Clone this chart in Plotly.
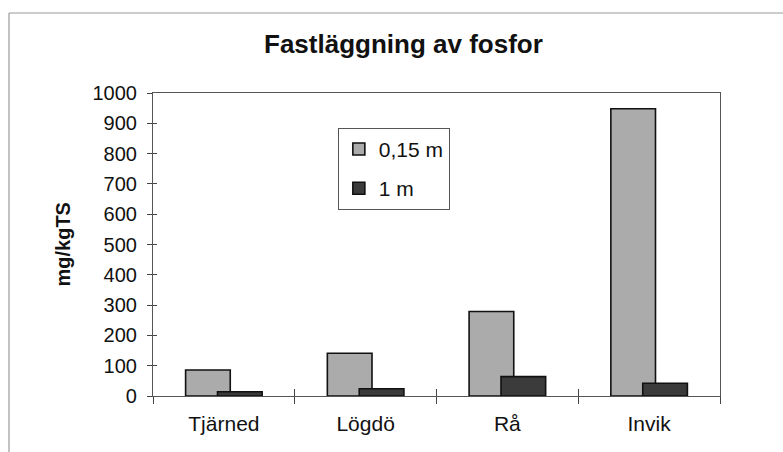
import plotly.graph_objects as go

# Data
sites = ["Tjärned", "Lögdö", "Rå", "Invik"]
depth_015 = [86, 141, 279, 948]
depth_1 = [14, 24, 64, 42]
series_names = ["0,15 m", "1 m"]
y_ticks = [0, 100, 200, 300, 400, 500, 600, 700, 800, 900, 1000]

FONT = "Liberation Sans, Arial, sans-serif"
INK = "#111111"

fig = go.Figure()
fig.add_trace(go.Bar(
    x=sites, y=depth_015, name=series_names[0],
    width=0.315, offset=-0.27,
    marker=dict(color="#ababab", line=dict(color="#111111", width=1.6)),
    legendgroup="a",
))
fig.add_trace(go.Bar(
    x=sites, y=depth_1, name=series_names[1],
    width=0.315, offset=-0.045,
    marker=dict(color="#3b3b3b", line=dict(color="#111111", width=1.6)),
    legendgroup="b",
))

# Invisible helper trace on secondary axes, used for the inward half of the tick marks
fig.add_trace(go.Bar(x=sites, y=[0] * len(sites), xaxis="x2", yaxis="y2",
                     showlegend=False, hoverinfo="skip", marker=dict(opacity=0)))

fig.update_layout(
    width=783, height=452,
    margin=dict(l=153, r=63, t=93, b=56),
    paper_bgcolor="white", plot_bgcolor="white",
    barmode="overlay",
    font=dict(family=FONT, size=20, color=INK),
    showlegend=True,
    legend=dict(
        x=0.326, y=0.885, xanchor="left", yanchor="top",
        bgcolor="white", bordercolor="#555555", borderwidth=1,
        font=dict(size=21, family=FONT, color=INK),
        tracegroupgap=9, traceorder="grouped",
        itemwidth=30,
    ),
    xaxis=dict(
        type="category", categoryorder="array", categoryarray=sites,
        range=[-0.5, 3.5], tickson="boundaries",
        ticks="outside", ticklen=7, tickcolor="#444444", tickwidth=1,
        showline=True, linecolor="#555555", linewidth=1.2, mirror=True,
        showgrid=False, zeroline=False,
        tickfont=dict(size=21, color=INK), ticklabelstandoff=9,
    ),
    yaxis=dict(
        range=[0, 1000], tickvals=y_ticks,
        ticks="outside", ticklen=5, tickcolor="#444444", tickwidth=1,
        showline=True, linecolor="#555555", linewidth=1.2, mirror=True,
        showgrid=False, zeroline=False,
        tickfont=dict(size=20, color=INK), ticklabelstandoff=6,
    ),
    xaxis2=dict(
        type="category", categoryorder="array", categoryarray=sites,
        range=[-0.5, 3.5], tickson="boundaries", overlaying="x",
        ticks="inside", ticklen=7, tickcolor="#444444", tickwidth=1,
        showticklabels=False, showgrid=False, zeroline=False, showline=False,
    ),
    yaxis2=dict(
        range=[0, 1000], tickvals=y_ticks, overlaying="y",
        ticks="inside", ticklen=4, tickcolor="#444444", tickwidth=1,
        showticklabels=False, showgrid=False, zeroline=False, showline=False,
    ),
    annotations=[
        dict(text="<b>Fastläggning av fosfor</b>", xref="paper", yref="paper",
             x=(403 - 153) / 567, y=(396 - 44) / 303, xanchor="center", yanchor="middle",
             showarrow=False, font=dict(size=26, family=FONT, color=INK)),
        dict(text="<b>mg/kgTS</b>", xref="paper", yref="paper",
             x=(62 - 153) / 567, y=0.5, xanchor="center", yanchor="middle",
             textangle=-90, showarrow=False,
             font=dict(size=20, family=FONT, color=INK)),
    ],
    shapes=[
        # outer chart frame (top and left edges)
        dict(type="line", xref="paper", yref="paper",
             x0=(9 - 153) / 567, x1=(783 - 153) / 567,
             y0=(396 - 13) / 303, y1=(396 - 13) / 303,
             line=dict(color="#9a9a9a", width=1.2)),
        dict(type="line", xref="paper", yref="paper",
             x0=(9 - 153) / 567, x1=(9 - 153) / 567,
             y0=(396 - 13) / 303, y1=(396 - 460) / 303,
             line=dict(color="#9a9a9a", width=1.2)),
    ],
)

fig.write_html("out.html")
